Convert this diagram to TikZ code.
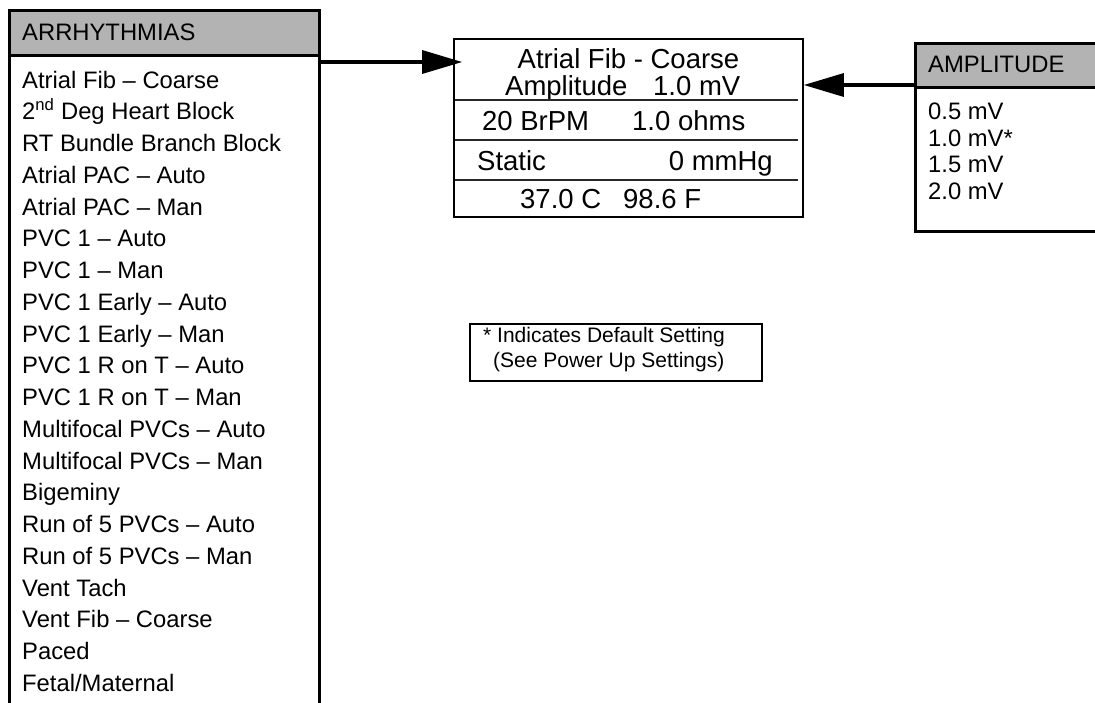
\documentclass[tikz,border=0pt]{standalone}
\usepackage{fontspec}
\setmainfont{Liberation Sans}
\usetikzlibrary{arrows.meta}
\definecolor{HeadGray}{RGB}{179,179,179}
\definecolor{LcdLine}{RGB}{40,40,40}

\begin{document}
\begin{tikzpicture}[x=1pt, y=-1pt,
    panel/.style={draw, line width=2.8pt, anchor=north west, inner sep=0pt},
    head/.style={panel, fill=HeadGray},
    entry/.style={anchor=west, inner sep=0pt, text height=17pt, text depth=0pt,
                  font=\fontsize{23.8}{28}\selectfont},
    lcdtxt/.style={inner sep=0pt, text height=20pt, text depth=0pt,
                   font=\fontsize{27.5}{32}\selectfont},
    notetxt/.style={anchor=west, inner sep=0pt, text height=15pt, text depth=0pt,
                    font=\fontsize{21}{25}\selectfont},
    sep/.style={draw=LcdLine, line width=2.4pt},
    arr/.style={-{Triangle[length=40pt, width=23pt]}, line width=3.2pt}
  ]
  \useasboundingbox (0,0) rectangle (1095,702);
  \clip (0,0) rectangle (1095,702);
  % arrhythmia menu (left)
  \node[panel, minimum width=310pt, minimum height=720pt] (arrpanel) at (8,9) {};
  \node[head, minimum width=310pt, minimum height=45pt] (arrhead) at (8,9) {};
  \node[entry] (arrtitle) at (22,31.5) {ARRHYTHMIAS};
  \foreach \txt [count=\i] in {Atrial Fib \textendash{} Coarse,
      2\textsuperscript{nd} Deg Heart Block, RT Bundle Branch Block,
      Atrial PAC \textendash{} Auto, Atrial PAC \textendash{} Man,
      PVC 1 \textendash{} Auto, PVC 1 \textendash{} Man,
      PVC 1 Early \textendash{} Auto, PVC 1 Early \textendash{} Man,
      PVC 1 R on T \textendash{} Auto, PVC 1 R on T \textendash{} Man,
      Multifocal PVCs \textendash{} Auto, Multifocal PVCs \textendash{} Man,
      Bigeminy, Run of 5 PVCs \textendash{} Auto, Run of 5 PVCs \textendash{} Man,
      Vent Tach, Vent Fib \textendash{} Coarse, Paced, Fetal/Maternal}
    \node[entry] (arr\i) at (22, 47.74+31.76*\i) {\txt};
  % amplitude menu (right)
  \node[panel, minimum width=200pt, minimum height=188pt] (amppanel) at (914,42) {};
  \node[head, minimum width=200pt, minimum height=44pt] (amphead) at (914,42) {};
  \node[entry] (amptitle) at (928,64) {AMPLITUDE};
  \foreach \txt [count=\i] in {0.5 mV, 1.0 mV*, 1.5 mV, 2.0 mV}
    \node[entry] (amp\i) at (928, 84.3+26.7*\i) {\txt};
  % simulator screen (middle)
  \node[draw, line width=1.6pt, minimum width=349pt, minimum height=178pt,
        inner sep=0pt] (lcd) at (628.5,128) {};
  \node[lcdtxt] (scr1) at (628.5,58) {Atrial Fib - Coarse};
  \node[lcdtxt, anchor=west] (scr2a) at (505,85) {Amplitude};
  \node[lcdtxt, anchor=west] (scr2b) at (653,85) {1.0 mV};
  \node[lcdtxt, anchor=west] (scr3a) at (482,120) {20 BrPM};
  \node[lcdtxt, anchor=west] (scr3b) at (632,120) {1.0 ohms};
  \node[lcdtxt, anchor=west] (scr4a) at (477,160) {Static};
  \node[lcdtxt, anchor=east] (scr4b) at (773,160) {0 mmHg};
  \node[lcdtxt, anchor=west] (scr5a) at (520,198) {37.0 C};
  \node[lcdtxt, anchor=west] (scr5b) at (623,198) {98.6 F};
  \foreach \y in {100,140,180}
    \draw[sep] (455,\y) -- (798,\y);
  % default-setting note
  \node[draw, line width=2.4pt, minimum width=292pt, minimum height=57pt,
        anchor=north west] (note) at (469,323) {};
  \node[notetxt] (note1) at (483,335) {* Indicates Default Setting};
  \node[notetxt] (note2) at (493,360) {(See Power Up Settings)};
  % connectors
  \coordinate (lvl1) at (0,62);
  \coordinate (lvl2) at (0,85);
  \draw[arr, shorten >=-9pt] (arrpanel.east |- lvl1) -- (lcd.west |- lvl1);
  \draw[arr] (amppanel.west |- lvl2) -- (lcd.east |- lvl2);
\end{tikzpicture}
\end{document}
